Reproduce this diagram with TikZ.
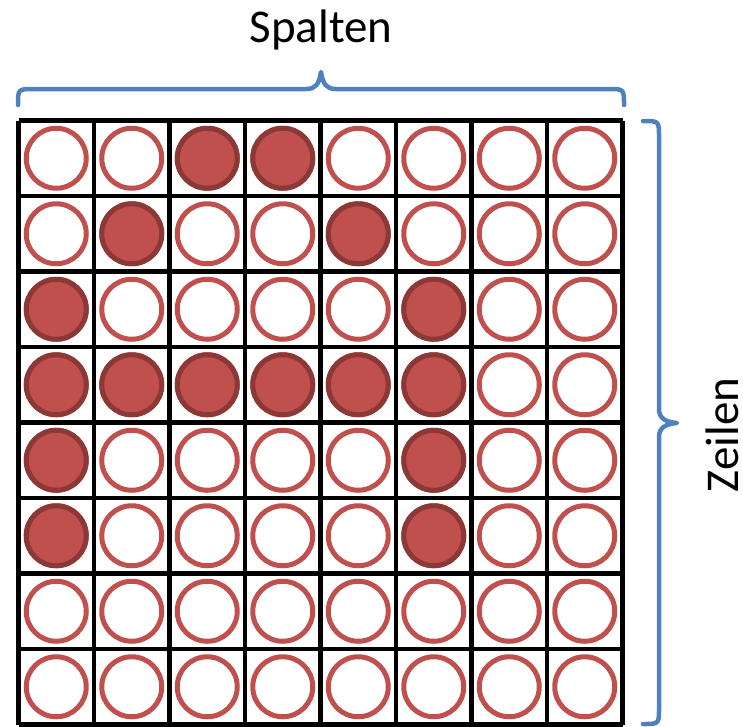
\documentclass[tikz,border=0pt]{standalone}
\usepackage{fontspec}
\setmainfont{Carlito}
\definecolor{cred}{HTML}{C0504D}
\definecolor{cdark}{HTML}{8C3836}
\definecolor{cblue}{HTML}{4F81BD}
\begin{document}
\begin{tikzpicture}[x=1pt,y=-1pt,
  gridline/.style={line width=4.5pt,black},
  opencirc/.style={circle,draw=cred,line width=5pt,fill=white,minimum size=60pt,inner sep=0pt},
  fullcirc/.style={circle,draw=cdark,line width=5pt,fill=cred,minimum size=60pt,inner sep=0pt},
  bracestyle/.style={cblue,line width=4.5pt,line cap=round,line join=round},
  labeltext/.style={font=\fontsize{47}{54}\selectfont,inner sep=0pt}]
\useasboundingbox (0,0) rectangle (743,726);
% grid
\foreach \i in {0,...,8}{
  \draw[gridline] ({18.5+75.5*\i},120.5) -- ({18.5+75.5*\i},724.5);
  \draw[gridline] (18.5,{120.5+75.5*\i}) -- (622.5,{120.5+75.5*\i});
}
% circles
\foreach \r/\filled in {1/{3,4},2/{2,5},3/{1,6},4/{1,2,3,4,5,6},5/{1,6},6/{1,6},7/{},8/{}}{
  \foreach \c in {1,...,8}{
    \node[opencirc] (c-\r-\c) at ({18.5+75.5*(\c-0.5)},{120.5+75.5*(\r-0.5)}) {};
  }
  \foreach \c in \filled{
    \node[fullcirc] (f-\r-\c) at ({18.5+75.5*(\c-0.5)},{120.5+75.5*(\r-0.5)}) {};
  }
}
% top brace
\coordinate (tl) at (18,105);
\coordinate (tr) at (624,105);
\coordinate (tt) at (321,72);
\draw[bracestyle] (tl) .. controls (18,89) .. (34,89) -- (306,89)
  .. controls (316,89) and (319,84) .. (tt)
  .. controls (323,84) and (326,89) .. (336,89) -- (608,89)
  .. controls (624,89) .. (tr);
% right brace
\coordinate (rt) at (643,121);
\coordinate (rb) at (643,724);
\coordinate (rr) at (677,423);
\draw[bracestyle] (rt) .. controls (659,121) .. (659,137) -- (659,409)
  .. controls (659,418) and (665,422) .. (rr)
  .. controls (665,424) and (659,428) .. (659,437) -- (659,708)
  .. controls (659,724) .. (rb);
% labels
\node[labeltext,anchor=base] (spalten) at (321,42.7) {Spalten};
\node[labeltext,rotate=90,anchor=base] (zeilen) at (738,435) {Zeilen};
\end{tikzpicture}
\end{document}
